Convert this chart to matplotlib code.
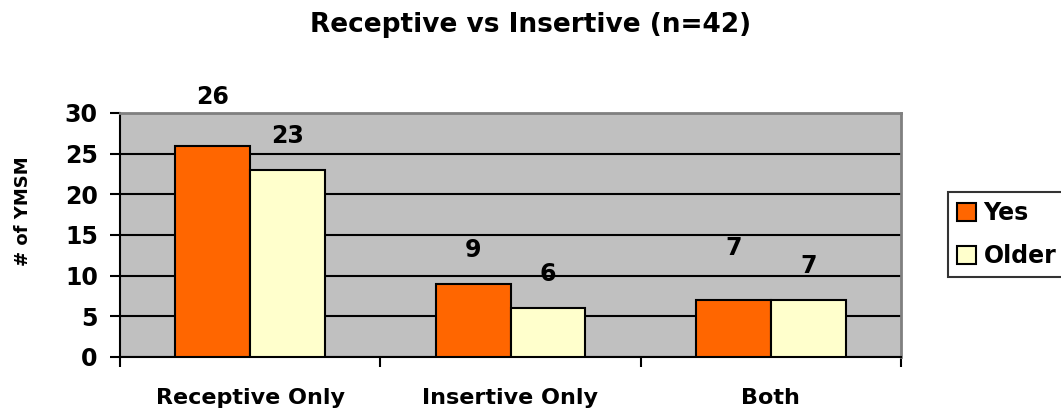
import numpy as np
import matplotlib.pyplot as plt

plt.rcParams['font.family'] = ['DejaVu Sans']
plt.rcParams['font.weight'] = 'bold'

# data
categories = ["Receptive Only", "Insertive Only", "Both"]
yes_vals = [26, 9, 7]
older_vals = [23, 6, 7]
# vertical offsets (points) of the value labels, as placed in the original
yes_label_off = [26, 16, 29]
older_label_off = [16, 16, 16]

fig = plt.figure(figsize=(10.61, 4.16), dpi=100)
ax = fig.add_axes([120/1061, 59/416, 781/1061, 244/416])
ax.set_facecolor('#C0C0C0')

x = np.arange(len(categories))
w = 0.288
b1 = ax.bar(x - w/2, yes_vals, w, color='#FF6600', edgecolor='black', linewidth=1.5, label='Yes', zorder=3)
b2 = ax.bar(x + w/2, older_vals, w, color='#FFFFCC', edgecolor='black', linewidth=1.5, label='Older', zorder=3)

# value labels
for bars, offs in [(b1, yes_label_off), (b2, older_label_off)]:
    for r, off in zip(bars, offs):
        ax.annotate(str(int(r.get_height())), (r.get_x() + r.get_width()/2, r.get_height()),
                    xytext=(0, off), textcoords='offset points', ha='center', va='bottom',
                    fontsize=17, fontweight='bold', annotation_clip=False)

ax.set_ylim(0, 30)
ax.set_xlim(-0.5, 2.5)
ax.set_yticks(range(0, 31, 5))
ax.yaxis.grid(True, color='black', linewidth=1.5, zorder=1)
ax.set_axisbelow(True)
ax.tick_params(axis='y', labelsize=17, length=7, width=1.5, pad=9)

# ticks at category boundaries, labels at centres
ax.set_xticks([-0.5, 0.5, 1.5, 2.5])
ax.set_xticklabels([])
ax.set_xticks(x, minor=True)
ax.set_xticklabels(categories, minor=True)
ax.tick_params(axis='x', which='major', length=7, width=1.5)
ax.tick_params(axis='x', which='minor', length=0, labelsize=16, pad=22)

ax.spines['left'].set_linewidth(1.5)
ax.spines['bottom'].set_linewidth(1.5)
ax.spines['top'].set_color('#808080')
ax.spines['right'].set_color('#808080')
ax.spines['top'].set_linewidth(2)
ax.spines['right'].set_linewidth(2)

ax.set_ylabel('# of YMSM', fontsize=13, fontweight='bold')
ax.yaxis.set_label_coords(-0.113, 0.598)
fig.suptitle('Receptive vs Insertive (n=42)', fontsize=19, fontweight='bold', y=0.97)

leg = fig.legend(loc='center left', bbox_to_anchor=(948/1061, 181.5/416), fontsize=17,
                 frameon=True, fancybox=False, edgecolor='black', handlelength=0.8,
                 handleheight=0.8, handletextpad=0.3, borderpad=0.4, labelspacing=0.8,
                 borderaxespad=0)
leg.get_frame().set_linewidth(1.5)
for t in leg.get_texts():
    t.set_fontweight('bold')

plt.savefig('out.png', dpi=100)
